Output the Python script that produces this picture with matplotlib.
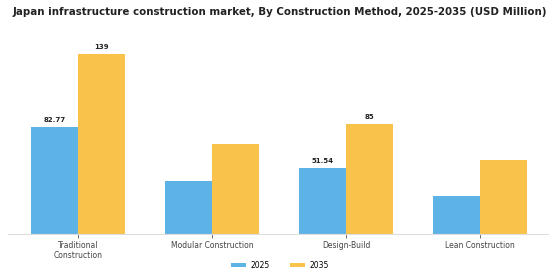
import matplotlib
matplotlib.use("Agg")
import matplotlib.pyplot as plt
import numpy as np

categories = ["Traditional\nConstruction", "Modular Construction", "Design-Build", "Lean Construction"]
years = ["2025", "2035"]
values_2025 = [82.77, 40.9, 51.54, 29.3]
values_2035 = [139, 69.7, 85, 57.1]
labels_2025 = ["82.77", "", "51.54", ""]
labels_2035 = ["139", "", "85", ""]
colors = ["#5DB3E6", "#F9C24A"]

fig = plt.figure(figsize=(5.6, 2.8), dpi=100)
ax = fig.add_axes([0.015, 0.163, 0.964, 0.708])
x = np.arange(len(categories))
w = 0.348
b1 = ax.bar(x - w/2, values_2025, w, color=colors[0], label=years[0])
b2 = ax.bar(x + w/2, values_2035, w, color=colors[1], label=years[1])
for bars, labs in ((b1, labels_2025), (b2, labels_2035)):
    for r, t in zip(bars, labs):
        if t:
            ax.text(r.get_x() + r.get_width()/2, r.get_height() + 3, t,
                    ha="center", va="bottom", fontsize=5, fontweight="bold", color="#222222")
ax.set_xlim(-0.52, 3.51)
ax.set_ylim(0, 153)
ax.set_yticks([])
ax.set_xticks(x)
ax.set_xticklabels(categories, fontsize=5.5, color="#444444", linespacing=1.1)
ax.tick_params(axis="x", length=3, width=0.6, color="#555555", pad=2)
for s in ["top", "right", "left"]:
    ax.spines[s].set_visible(False)
ax.spines["bottom"].set_color("#dddddd")
ax.spines["bottom"].set_linewidth(0.8)
fig.suptitle("Japan infrastructure construction market, By Construction Method, 2025-2035 (USD Million)",
             fontsize=7.4, fontweight="bold", x=0.5, y=0.975, color="#222222")
fig.legend(loc="center", bbox_to_anchor=(0.5, 0.053), ncol=2, frameon=False,
           fontsize=5.5, handlelength=2.0, handleheight=0.55, columnspacing=2.6, handletextpad=0.6)
fig.savefig("out.png", dpi=100, facecolor="white")
